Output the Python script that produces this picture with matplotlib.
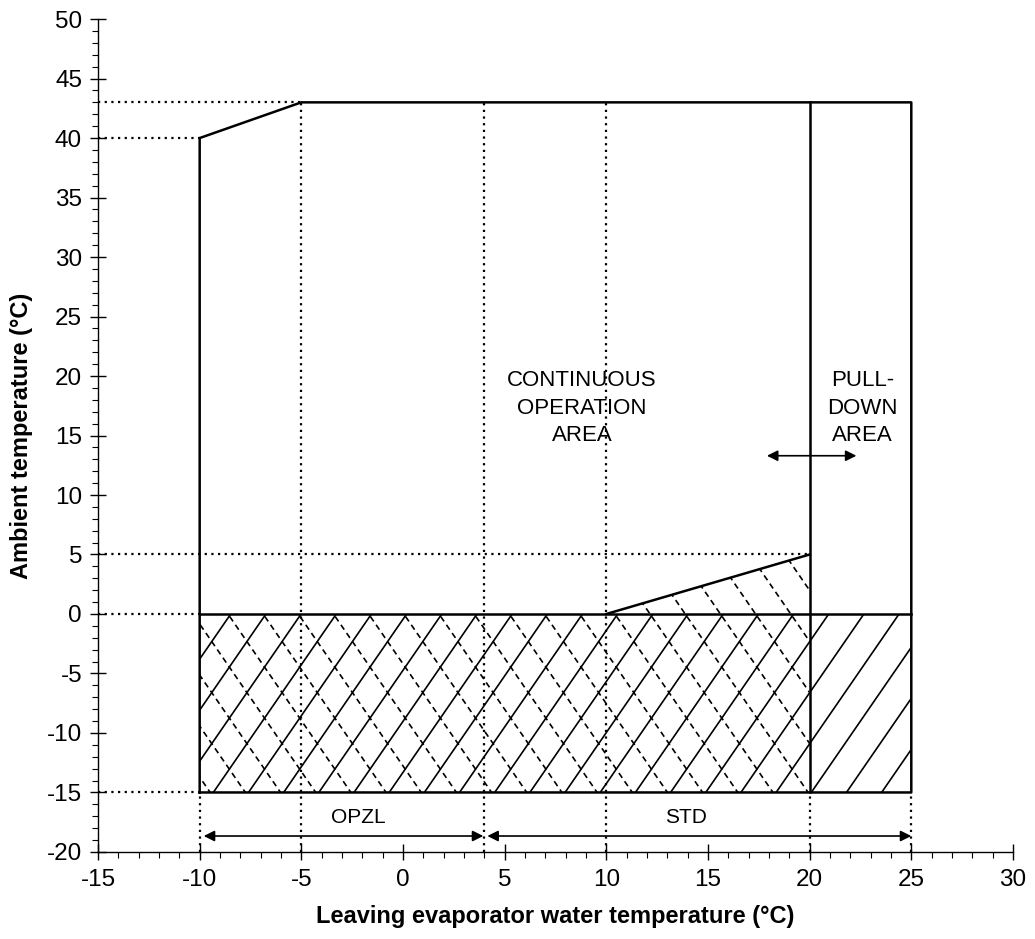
import numpy as np
import matplotlib.pyplot as plt
from matplotlib.patches import Polygon
from matplotlib.ticker import MultipleLocator

plt.rcParams['font.family'] = ['Liberation Sans', 'DejaVu Sans']
plt.rcParams['axes.unicode_minus'] = False

# enveloppe de fonctionnement
env_x = [-10, -10, -5, 25, 25, -10]
env_y = [-15, 40, 43, 43, -15, -15]
pulldown_x = 20
freeze_y = 0
slope_x = [10, 20]
slope_y = [0, 5]

# zone hachurée (glycol) : / pleine et \ pointillée
solid_zone_x = [-10, 25, 25, -10]
solid_zone_y = [-15, -15, 0, 0]
dash_zone_x = [-10, 20, 20, 10, -10]
dash_zone_y = [-15, -15, 5, 0, 0]

# lignes de repère pointillées
h_refs = [(43, -5), (40, -10), (5, 20), (0, -10), (-15, -10)]   # (y, x_fin)
v_refs = [(-5, 43), (4, 43), (10, 43), (-10, -15), (20, -15), (25, -15)]  # (x, y_haut)

opzl_range = [-10, 4]
std_range = [4, 25]

fig = plt.figure(figsize=(10.35, 9.39), dpi=100)
ax = fig.add_axes([0.0947, 0.0927, 0.884, 0.887])
ax.set_xlim(-15, 30)
ax.set_ylim(-20, 50)

for s in ['top', 'right']:
    ax.spines[s].set_visible(False)
for s in ['left', 'bottom']:
    ax.spines[s].set_linewidth(1.0)

ax.xaxis.set_major_locator(MultipleLocator(5))
ax.xaxis.set_minor_locator(MultipleLocator(1))
ax.yaxis.set_major_locator(MultipleLocator(5))
ax.yaxis.set_minor_locator(MultipleLocator(1))
ax.tick_params(which='major', direction='inout', length=11, width=1.0, labelsize=17.5, pad=6)
ax.tick_params(which='minor', direction='out', length=4, width=0.8)
ax.tick_params(axis='x', which='major', pad=7)

# hachures, découpées par les zones
m = 2.48
sp = 1.73
clip1 = Polygon(np.column_stack([solid_zone_x, solid_zone_y]), closed=True,
                transform=ax.transData, fill=False, edgecolor='none')
clip2 = Polygon(np.column_stack([dash_zone_x, dash_zone_y]), closed=True,
                transform=ax.transData, fill=False, edgecolor='none')
ax.add_patch(clip1)
ax.add_patch(clip2)
ys = np.array([-20, 10])
for k in range(-25, 25):
    x0 = -9.33 + k * sp
    ln, = ax.plot(x0 + (ys + 15) / m, ys, color='black', lw=1.2)
    ln.set_clip_path(clip1)
    x1 = 12.15 + k * sp
    ln, = ax.plot(x1 - ys / m, ys, color='black', lw=1.2, linestyle=(0, (3.5, 2.5)))
    ln.set_clip_path(clip2)

# repères pointillés
dot = (0, (1, 2))
for y, xe in h_refs:
    ax.plot([-15, xe], [y, y], color='black', lw=1.6, linestyle=dot, clip_on=False)
for x, yt in v_refs:
    ax.plot([x, x], [-20, yt], color='black', lw=1.6, linestyle=dot, clip_on=False)

# contour
ax.plot(env_x, env_y, color='black', lw=1.8)
ax.plot([pulldown_x, pulldown_x], [-15, 43], color='black', lw=1.8)
ax.plot([-10, 25], [freeze_y, freeze_y], color='black', lw=1.8)
ax.plot(slope_x, slope_y, color='black', lw=1.8)

# textes
ax.text(8.8, 17.3, 'CONTINUOUS\nOPERATION\nAREA', ha='center', va='center',
        fontsize=16, linespacing=1.4)
ax.text(22.6, 17.3, 'PULL-\nDOWN\nAREA', ha='center', va='center',
        fontsize=16, linespacing=1.4)
arr = dict(arrowstyle='<|-|>', color='black', lw=1.2, mutation_scale=16,
           shrinkA=0, shrinkB=0)
ax.annotate('', xy=(17.9, 13.3), xytext=(22.3, 13.3), arrowprops=arr)
ax.annotate('', xy=(opzl_range[0] + 0.2, -18.66), xytext=(opzl_range[1] - 0.05, -18.66),
            arrowprops=arr, annotation_clip=False)
ax.annotate('', xy=(std_range[0] + 0.15, -18.66), xytext=(std_range[1], -18.66),
            arrowprops=arr, annotation_clip=False)
ax.text(-2.2, -17.14, 'OPZL', ha='center', va='center', fontsize=15)
ax.text(13.9, -17.14, 'STD', ha='center', va='center', fontsize=15)

ax.set_xlabel('Leaving evaporator water temperature (°C)', fontsize=17,
              fontweight='bold', labelpad=10)
ax.set_ylabel('Ambient temperature (°C)', fontsize=17, fontweight='bold', labelpad=10)

fig.savefig('out.png', dpi=100)
